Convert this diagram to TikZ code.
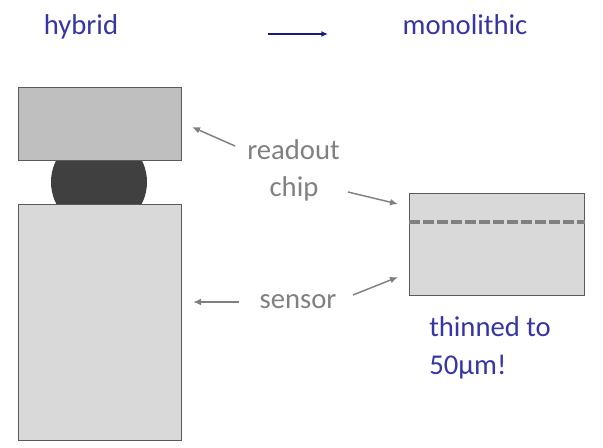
\documentclass[tikz,border=0pt]{standalone}
\usepackage{fontspec}
\setmainfont{Carlito}
\usepackage{tikz}
\usetikzlibrary{arrows.meta, positioning}
\definecolor{Ink}     {HTML}{3535A5}
\definecolor{Navy}    {HTML}{1A1A80}
\definecolor{LabelGrey}{HTML}{808080}
\definecolor{EdgeGrey}{HTML}{5A5A5A}
\definecolor{ChipFill}{HTML}{BFBFBF}
\definecolor{SensFill}{HTML}{D9D9D9}
\definecolor{BumpFill}{HTML}{404040}

\tikzset{
  layer/.style={draw=EdgeGrey, line width=0.9pt, inner sep=0pt, anchor=north west},
  title/.style={text=Ink, inner sep=0pt, anchor=base},
  tag/.style={text=LabelGrey, inner sep=0pt, anchor=base},
  ptr/.style={LabelGrey, line width=1.1pt, -{Latex[length=6pt, width=5pt]}}
}

\begin{document}
\begin{tikzpicture}[x=0.75pt, y=-0.75pt, font=\fontsize{21.5}{26}\selectfont]
  \useasboundingbox (0,0) rectangle (603,447);
  % Titles
  \node[title] (hyb) at (81,34) {hybrid};
  \node[title] (mono) at (465,34) {monolithic};
  \coordinate (go) at (268,34);
  \coordinate (to) at (328,34);
  \draw[Navy, line width=1.1pt, -{Latex[length=5pt, width=4.5pt]}] (go) -- (to);
  % Hybrid stack: bump first, boxes on top
  \fill[BumpFill] (99,182) circle[radius=48];
  \node[layer, fill=ChipFill, minimum width=163*0.75pt, minimum height=73*0.75pt]
    (chip) at (18,87) {};
  \node[layer, fill=SensFill, minimum width=163*0.75pt, minimum height=236*0.75pt]
    (sens) at (18,204) {};
  % Monolithic
  \node[layer, fill=SensFill, minimum width=175*0.75pt, minimum height=102*0.75pt]
    (mapsbox) at (409,193) {};
  \draw[LabelGrey, line width=3pt, dash pattern=on 8pt off 2.5pt]
    (mapsbox.west |- 0,222) -- (mapsbox.east |- 0,222);
  % Labels
  \node[tag] (read) at (293.5,159) {readout};
  \node[tag] (chiptxt) at (294,196) {chip};
  \node[tag] (senstxt) at (298,308) {sensor};
  \node[text=Ink, inner sep=0pt, anchor=base west] (thin) at (429,336) {thinned to};
  \node[text=Ink, inner sep=0pt, anchor=base west] (fifty) at (429,374) {50µm!};
  % Pointers
  \coordinate (p1) at (235,146);  \coordinate (h1) at (192,127);
  \coordinate (p2) at (348,192);  \coordinate (h2) at (398,204);
  \coordinate (p3) at (239,302);  \coordinate (h3) at (193,302);
  \coordinate (p4) at (353,295);  \coordinate (h4) at (398,277);
  \draw[ptr] (p1) -- (h1);
  \draw[ptr] (p2) -- (h2);
  \draw[ptr] (p3) -- (h3);
  \draw[ptr] (p4) -- (h4);
\end{tikzpicture}
\end{document}
